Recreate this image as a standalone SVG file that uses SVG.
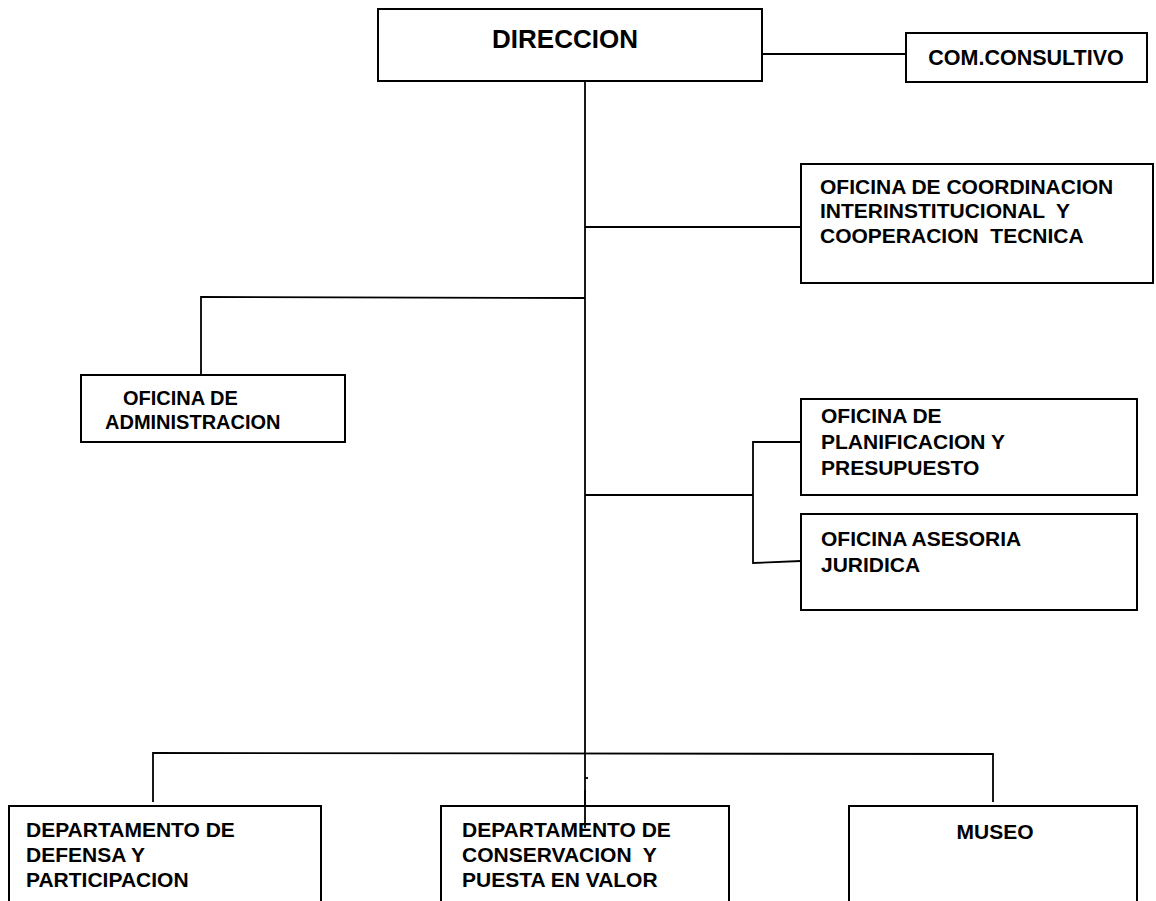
<svg xmlns="http://www.w3.org/2000/svg" width="1156" height="901" viewBox="0 0 1156 901">
<style>
.box{fill:#fff;stroke:#000;stroke-width:2}
.ln{fill:none;stroke:#000;stroke-width:1.8}
text{font-family:"Liberation Sans",Arial,sans-serif;font-weight:bold;font-size:21px;fill:#000;white-space:pre}
.big{font-size:26px}
.adm{font-size:20px}
.com{font-size:21.5px}
</style>
<rect width="1156" height="901" fill="#fff"/>
<g id="connectors">
<line class="ln" x1="585" y1="78" x2="585" y2="828"/>
<line class="ln" x1="585" y1="778" x2="588" y2="778"/>
<line class="ln" x1="762" y1="54" x2="906" y2="54"/>
<line class="ln" x1="585" y1="227" x2="801" y2="227"/>
<polyline class="ln" points="585,298 201,297 201,375"/>
<line class="ln" x1="585" y1="495" x2="753" y2="495"/>
<polyline class="ln" points="801,442 753,442 753,563 801,561"/>
<polyline class="ln" points="153,802 153,753 993,754 993,802"/>
</g>
<g id="direccion">
<rect class="box" x="378" y="9" width="384" height="72"/>
<text class="big" x="565" y="48" text-anchor="middle">DIRECCION</text>
</g>
<g id="com-consultivo">
<rect class="box" x="906" y="33" width="241" height="49"/>
<text class="com" x="1026" y="65" text-anchor="middle">COM.CONSULTIVO</text>
</g>
<g id="coordinacion">
<rect class="box" x="801" y="164" width="352" height="119"/>
<text x="820" y="194">OFICINA DE COORDINACION</text>
<text x="820" y="218">INTERINSTITUCIONAL  Y</text>
<text x="820" y="243">COOPERACION  TECNICA</text>
</g>
<g id="administracion">
<rect class="box" x="81" y="375" width="264" height="67"/>
<text class="adm" x="123" y="405">OFICINA DE</text>
<text class="adm" x="105" y="429">ADMINISTRACION</text>
</g>
<g id="planificacion">
<rect class="box" x="801" y="399" width="336" height="96"/>
<text x="821" y="423">OFICINA DE</text>
<text x="821" y="449">PLANIFICACION Y</text>
<text x="821" y="475">PRESUPUESTO</text>
</g>
<g id="asesoria">
<rect class="box" x="801" y="514" width="336" height="96"/>
<text x="821" y="546">OFICINA ASESORIA</text>
<text x="821" y="572">JURIDICA</text>
</g>
<g id="defensa">
<path class="box" d="M9,905 V806 H321 V905"/>
<text x="26" y="837">DEPARTAMENTO DE</text>
<text x="26" y="862">DEFENSA Y</text>
<text x="26" y="887">PARTICIPACION</text>
</g>
<g id="conservacion">
<path class="box" d="M441,905 V806 H729 V905"/>
<text x="462" y="837">DEPARTAMENTO DE</text>
<text x="462" y="862">CONSERVACION  Y</text>
<text x="462" y="887">PUESTA EN VALOR</text>
</g>
<g id="museo">
<path class="box" d="M849,905 V806 H1137 V905"/>
<text x="995" y="839" text-anchor="middle">MUSEO</text>
</g>
<line class="ln" x1="585" y1="790" x2="585" y2="828"/>
</svg>
